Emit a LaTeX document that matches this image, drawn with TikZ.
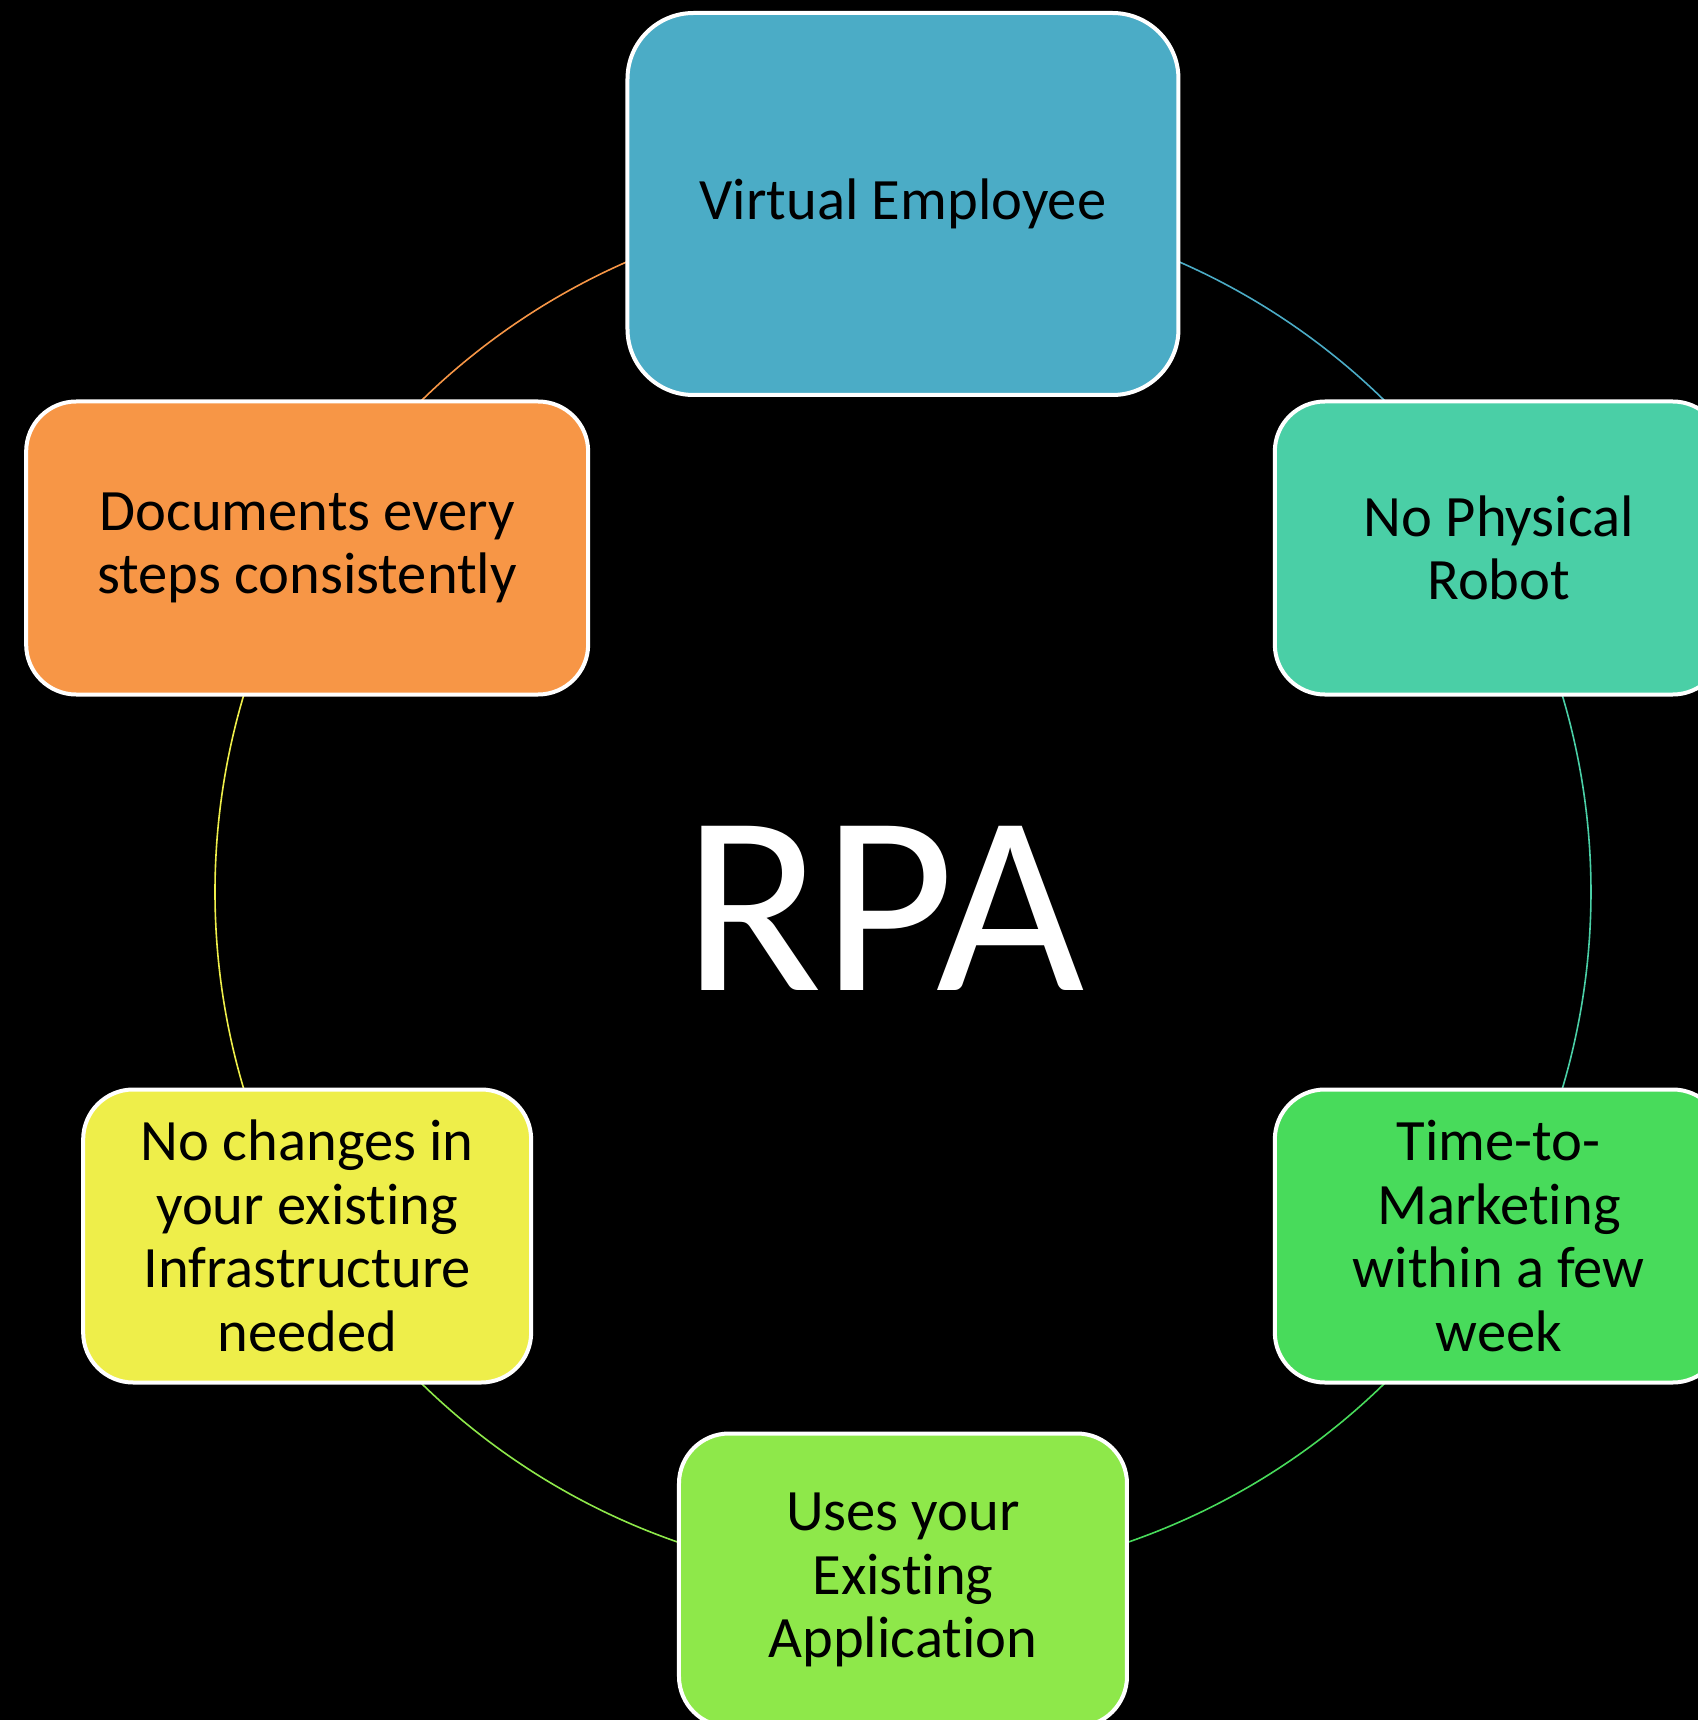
\documentclass[tikz,border=0pt]{standalone}
\usepackage{fontspec}
\setmainfont{Carlito}[Ligatures=NoCommon]
\usetikzlibrary{positioning}

\definecolor{rpaBlue}{HTML}{4BACC6}
\definecolor{rpaTeal}{HTML}{4ACFA6}
\definecolor{rpaGreen}{HTML}{48DB5B}
\definecolor{rpaLime}{HTML}{8EE84A}
\definecolor{rpaYellow}{HTML}{EEEE4A}
\definecolor{rpaOrange}{HTML}{F79646}

\begin{document}
\begin{tikzpicture}[
  x=0.5pt, y=0.5pt,
  box/.style = {draw=white, line width=2pt, rounded corners=25pt, inner sep=0pt,
    minimum width=224pt, minimum height=146.5pt, align=center, text=black,
    font=\fontsize{29.3}{31.8}\selectfont},
  ring/.style = {line width=0.8pt}
  ]
	\fill[black] (-903,-828) rectangle (795,892);
	\useasboundingbox (-903,-828) rectangle (795,892);

	\coordinate (@1) at (90:688);
	\coordinate (@2) at (30:688);
	\coordinate (@3) at (-30:688);
	\coordinate (@4) at (-90:688);
	\coordinate (@5) at (-150:688);
	\coordinate (@6) at (150:688);

	\draw[ring, rpaBlue]   (@1) arc[start angle=90,   end angle=30,   radius=344pt];
	\draw[ring, rpaTeal]   (@2) arc[start angle=30,   end angle=-30,  radius=344pt];
	\draw[ring, rpaGreen]  (@3) arc[start angle=-30,  end angle=-90,  radius=344pt];
	\draw[ring, rpaLime]   (@4) arc[start angle=-90,  end angle=-150, radius=344pt];
	\draw[ring, rpaYellow] (@5) arc[start angle=-150, end angle=-210, radius=344pt];
	\draw[ring, rpaOrange] (@6) arc[start angle=150,  end angle=90,   radius=344pt];

	\node[box, fill=rpaBlue, minimum width=275.5pt, minimum height=191pt, rounded corners=33pt] (virtual) at (@1) {Virtual Employee};
	\node[box, fill=rpaTeal]   (physical) at (@2) {No Physical\\Robot};
	\node[box, fill=rpaGreen]  (market)   at (@3) {Time-to-\\Marketing\\within a few\\week};
	\node[box, fill=rpaLime]   (uses)     at (@4) {Uses your\\Existing\\Application};
	\node[box, fill=rpaYellow] (changes)  at (@5) {No changes in\\your existing\\Infrastructure\\needed};
	\node[box, fill=rpaOrange, minimum width=281pt] (documents) at (@6) {Documents every\\steps consistently};

	\node[anchor=base, text=white, font=\fontsize{128}{150}\selectfont] (rpa) at (-19,-98) {RPA};

\end{tikzpicture}
\end{document}
